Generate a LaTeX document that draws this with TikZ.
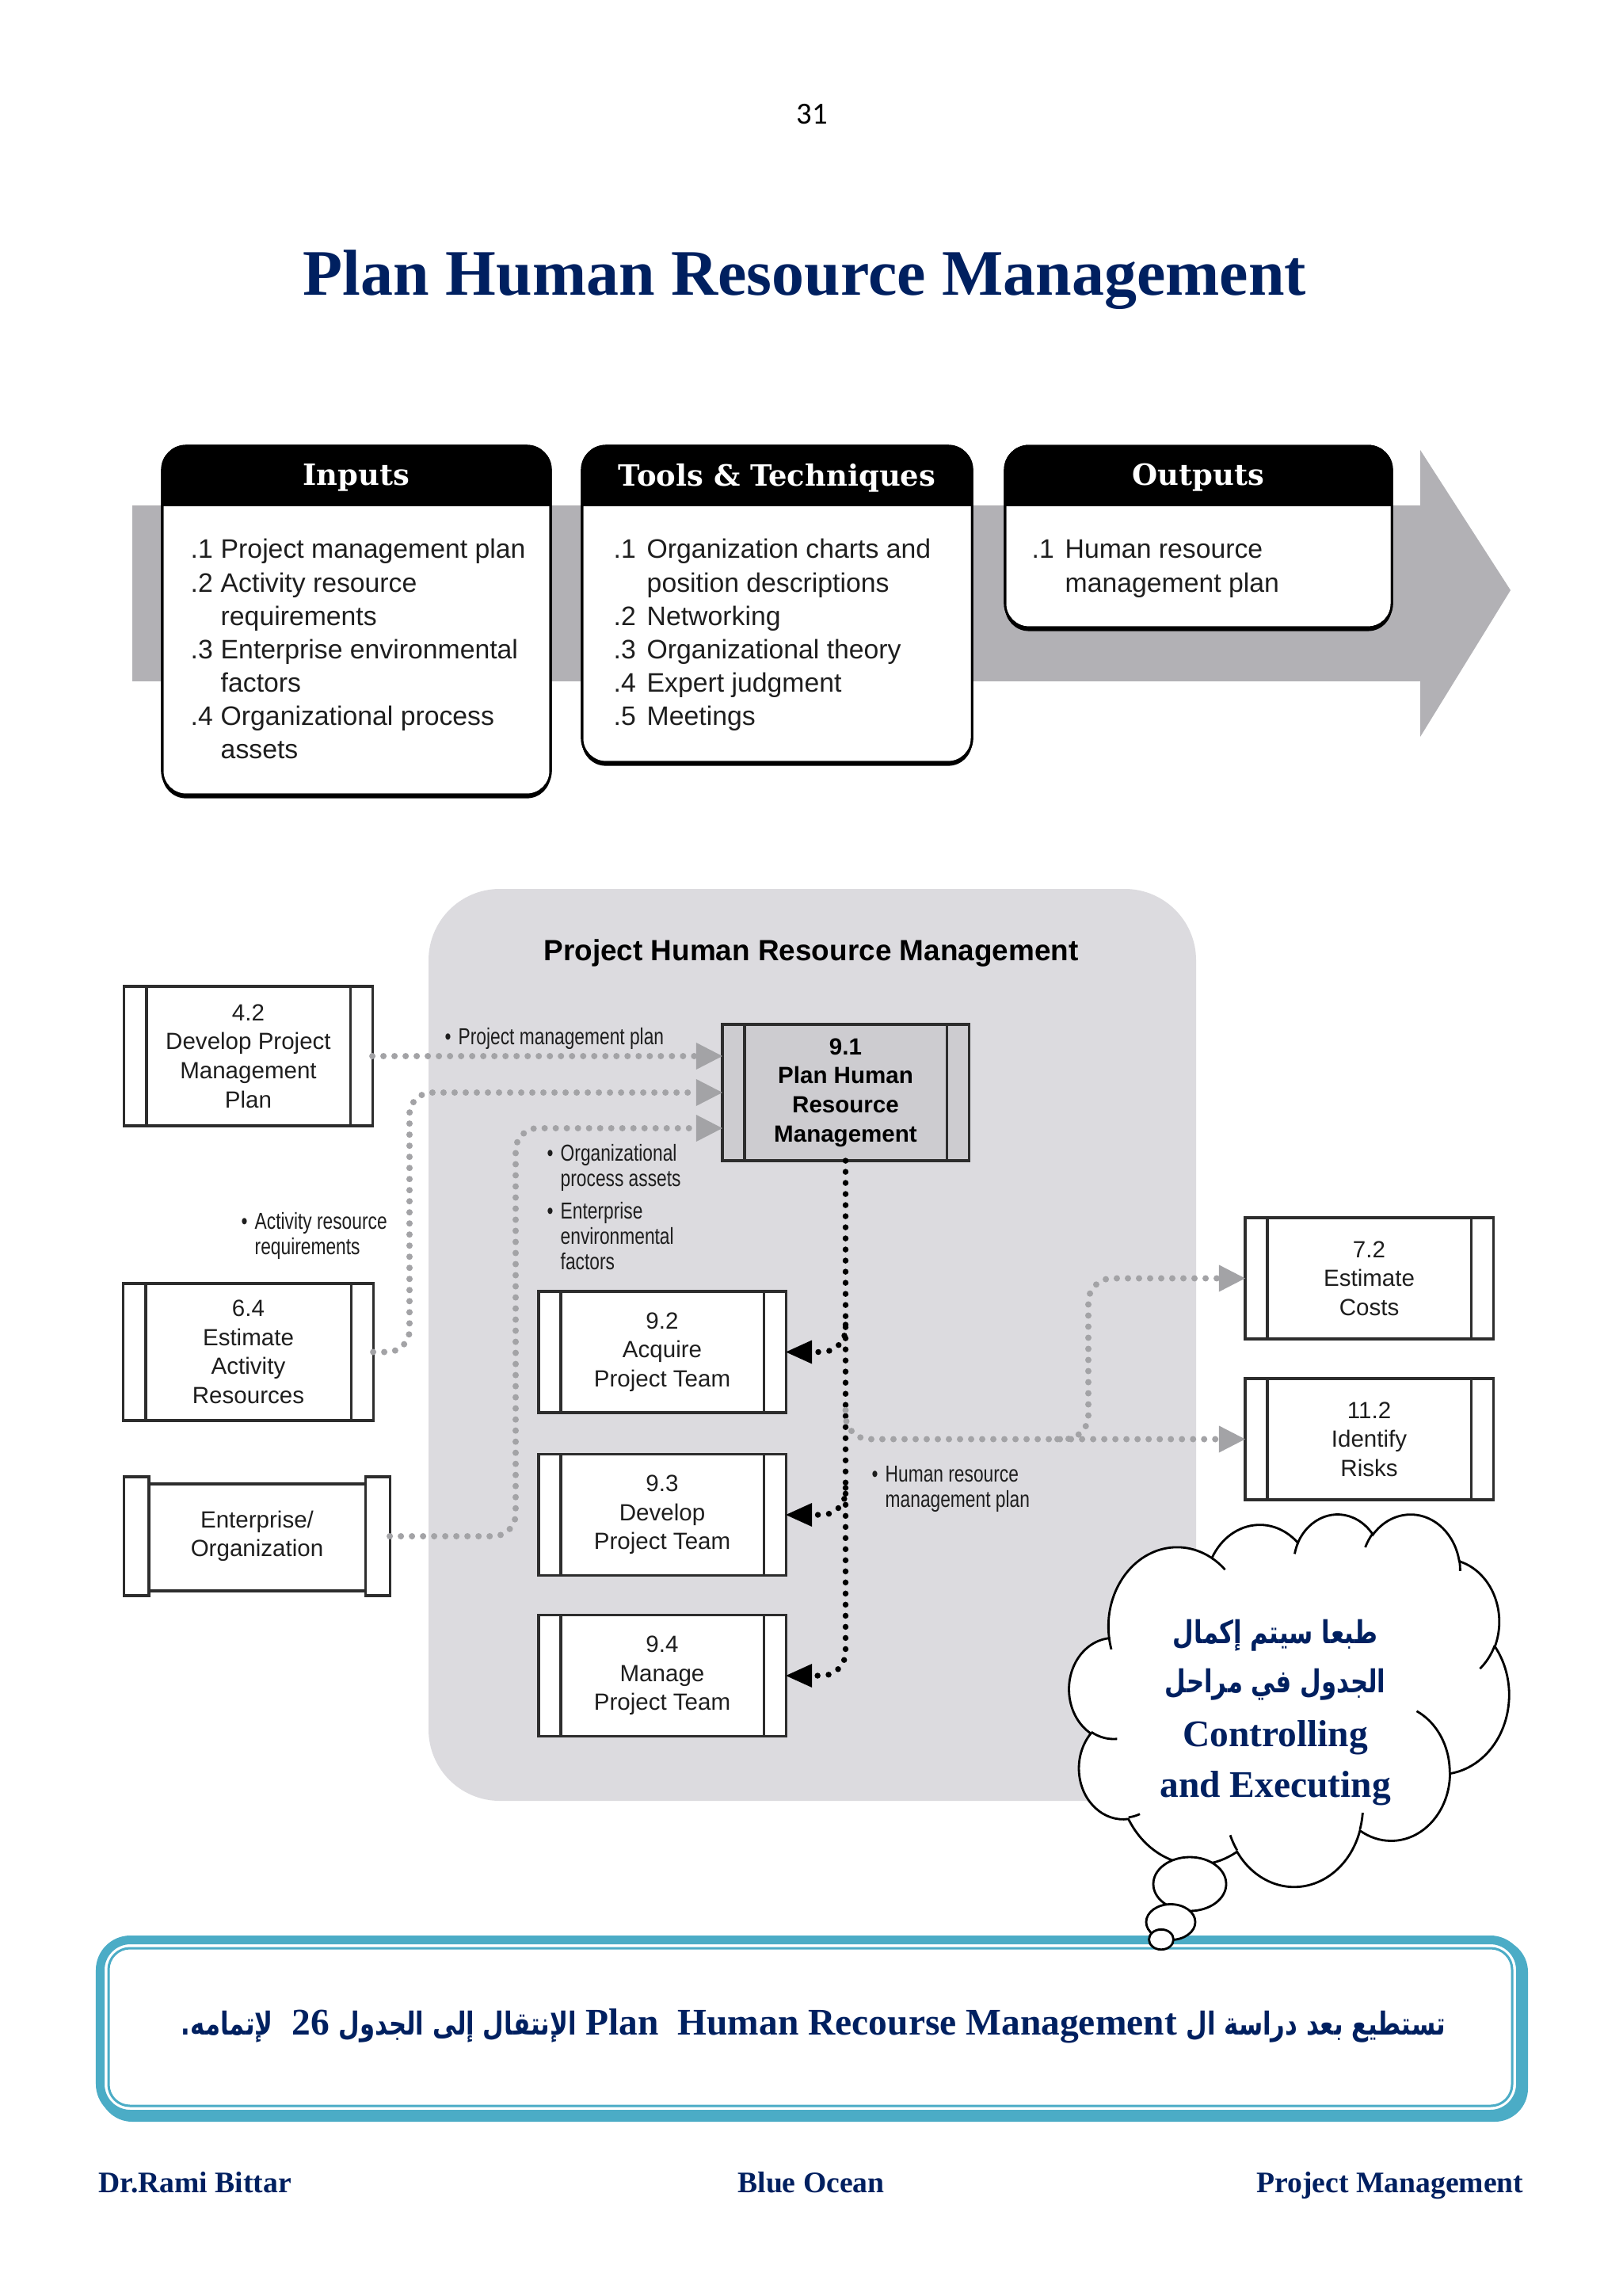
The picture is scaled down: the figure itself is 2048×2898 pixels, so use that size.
\documentclass[tikz,border=0pt]{standalone}
\usepackage{fontspec}
\setmainfont{Liberation Serif}
\newfontfamily\lsans{Liberation Sans}
\newfontfamily\lcond[FakeStretch=0.78]{Liberation Sans}
\newfontfamily\slab{DejaVu Serif}
\newfontfamily\arabicfont[Script=Arabic,Scale=0.84,FakeStretch=0.77]{DejaVu Sans}
\newfontfamily\carl{Carlito}
\usetikzlibrary{arrows.meta,shadows}
\TeXXeTstate=1
\definecolor{navy}{RGB}{0,32,96}
\definecolor{bxteal}{RGB}{75,172,198}
\definecolor{regiongray}{RGB}{220,219,223}
\definecolor{procgray}{RGB}{205,204,208}
\definecolor{arrowgray}{RGB}{178,177,181}
\definecolor{dotgray}{RGB}{163,163,166}
\definecolor{boxc}{RGB}{45,45,45}
\definecolor{txtc}{RGB}{30,30,30}
\newcommand\boxfont{\lsans\fontsize{8.4}{10.4}\selectfont}
\newcommand\listfont{\lsans\fontsize{9.6}{11.95}\selectfont}
\newcommand\lblfont{\lcond\fontsize{8.3}{9.2}\selectfont}
% cloud helpers (OOXML cloud preset, coordinates /100)
\newcommand\cldmove[2]{%
  \pgfmathsetmacro\clX{1350+(#1)*1.284722}%
  \pgfmathsetmacro\clY{1910+(#2)*1.087963}%
  \xdef\clpath{\clpath (\clX,\clY)}}
\newcommand\cldarc[4]{%
  \pgfmathsetmacro\clA{atan2((#1)*sin(#3),(#2)*cos(#3))}%
  \pgfmathsetmacro\clB{atan2((#1)*sin((#3)+(#4)),(#2)*cos((#3)+(#4)))}%
  \pgfmathsetmacro\clD{mod(\clB-\clA+720,360)}%
  \pgfmathsetmacro\clRx{(#1)*1.284722}%
  \pgfmathsetmacro\clRy{(#2)*1.087963}%
  \xdef\clpath{\clpath arc[start angle=\clA, delta angle=\clD, x radius=\clRx, y radius=\clRy]}}
\tikzset{
  proc/.style={draw=boxc, line width=0.9pt, fill=white, minimum width=3.12cm, minimum height=1.53cm,
    inner sep=0pt, outer sep=0pt, align=center, text=txtc, font=\boxfont,
    path picture={\draw[boxc, line width=0.9pt]
      ([xshift=0.28cm]path picture bounding box.north west) -- ([xshift=0.28cm]path picture bounding box.south west)
      ([xshift=-0.28cm]path picture bounding box.north east) -- ([xshift=-0.28cm]path picture bounding box.south east);}},
  itto/.style={draw=black, line width=0.8pt, fill=white, rounded corners=0.3cm, inner sep=0pt, outer sep=0pt,
    general shadow={fill=black, shadow yshift=-0.045cm}},
  hdr/.style={text=white, font=\slab\bfseries\fontsize{10.5}{12}\selectfont, inner sep=0pt},
  itlist/.style={anchor=base west, inner sep=0pt, font=\listfont, text=txtc},
  lbl/.style={anchor=base west, inner sep=0pt, font=\lblfont, text=txtc},
  gdots/.style={draw=dotgray, line width=0.08cm, line cap=round, dash pattern=on 0pt off 0.14cm,
    -{Triangle[length=0.33cm,width=0.34cm,line width=0pt 0 0]}},
  bdots/.style={draw=black, line width=0.075cm, line cap=round, dash pattern=on 0pt off 0.14cm,
    -{Triangle[length=0.33cm,width=0.30cm,line width=0pt 0 0]}},
  cloudtxt/.style={anchor=base, inner sep=0pt, text=navy, font=\bfseries\fontsize{13.5}{16}\selectfont},
  foot/.style={anchor=base, inner sep=0pt, text=navy, font=\bfseries\fontsize{10.7}{13}\selectfont},
}
\begin{document}
\begin{tikzpicture}[x=0.01cm, y=-0.01cm]
\useasboundingbox (0,0) rectangle (2048,2898);
\fill[white] (0,0) rectangle (2048,2898);

% page number and title
\node[anchor=base, inner sep=0pt, font=\carl\fontsize{11}{13}\selectfont] (pg) at (1025,157) {31};
\node[anchor=base, inner sep=0pt, text=navy, font=\bfseries\fontsize{23.3}{28}\selectfont] (title) at (1016,373) {Plan Human Resource Management};

% ITTO arrow
\fill[arrowgray] (167,638) -- (1793,638) -- (1793,568) -- (1907,745) -- (1793,930) -- (1793,860) -- (167,860) -- cycle;

% ITTO boxes
\node[itto, minimum width=4.9cm, minimum height=4.4cm] (bin) at (450,783) {};
\node[itto, minimum width=4.92cm, minimum height=3.99cm] (btt) at (981,762.5) {};
\node[itto, minimum width=4.88cm, minimum height=2.29cm] (bout) at (1513,677.5) {};
\foreach \b in {bin,btt,bout}{
  \begin{scope}
    \clip[rounded corners=0.3cm] (\b.north west) rectangle (\b.south east);
    \fill[black] (\b.north west) rectangle ([yshift=-0.76cm]\b.north east);
  \end{scope}
  \draw[black, line width=0.8pt, rounded corners=0.3cm] (\b.north west) rectangle (\b.south east);
}
\node[hdr] (hin) at (450,603) {Inputs};
\node[hdr] (htt) at (981,603) {Tools \& Techniques};
\node[hdr] (hout) at (1513,603) {Outputs};

\node[itlist] (lin) at (240,705) {\begin{tabular}[t]{@{}p{0.38cm}@{}l@{}}
.1&Project management plan\\.2&Activity resource\\&requirements\\.3&Enterprise environmental\\&factors\\.4&Organizational process\\&assets\end{tabular}};
\node[itlist] (ltt) at (774,705) {\begin{tabular}[t]{@{}p{0.42cm}@{}l@{}}
.1&Organization charts and\\&position descriptions\\.2&Networking\\.3&Organizational theory\\.4&Expert judgment\\.5&Meetings\end{tabular}};
\node[itlist] (lout) at (1302,705) {\begin{tabular}[t]{@{}p{0.42cm}@{}l@{}}
.1&Human resource\\&management plan\end{tabular}};

% process region
\fill[regiongray, rounded corners=0.9cm] (541,1122) rectangle (1510,2273);
\node[inner sep=0pt, font=\lsans\bfseries\fontsize{10.5}{12}\selectfont] (rtitle) at (1024,1203) {Project Human Resource Management};

% process boxes
\node[proc, minimum width=3.13cm, minimum height=1.76cm] (n42) at (313.5,1333) {4.2\\Develop Project\\Management\\Plan};
\node[proc, minimum width=3.15cm, minimum height=1.73cm] (n64) at (313.5,1706.5) {6.4\\Estimate\\Activity\\Resources};
\node[proc, fill=procgray, font=\boxfont\bfseries, text=black, minimum width=3.11cm, minimum height=1.72cm] (n91) at (1067.5,1379) {9.1\\Plan Human\\Resource\\Management};
\node[proc] (n92) at (836,1706.5) {9.2\\Acquire\\Project Team};
\node[proc] (n93) at (836,1912) {9.3\\Develop\\Project Team};
\node[proc] (n94) at (836,2115) {9.4\\Manage\\Project Team};
\node[proc, minimum width=3.13cm] (n72) at (1728.5,1613.5) {7.2\\Estimate\\Costs};
\node[proc, minimum width=3.13cm] (n112) at (1728.5,1816.5) {11.2\\Identify\\Risks};
\node[inner sep=0pt, outer sep=0pt, minimum width=3.35cm, minimum height=1.5cm, align=center, font=\boxfont, text=txtc] (nEO) at (324.5,1939) {Enterprise/\\Organization};
\draw[boxc, line width=0.9pt] (nEO.north west) rectangle ([xshift=0.31cm]nEO.south west);
\draw[boxc, line width=0.9pt] (nEO.north east) rectangle ([xshift=-0.31cm]nEO.south east);
\draw[boxc, line width=0.9pt] ([xshift=0.31cm,yshift=-0.09cm]nEO.north west) -- ([xshift=-0.31cm,yshift=-0.09cm]nEO.north east)
  ([xshift=0.31cm,yshift=0.06cm]nEO.south west) -- ([xshift=-0.31cm,yshift=0.06cm]nEO.south east);

% connectors
\draw[gdots] (n42.east) -- (n42.east -| n91.west);
\draw[gdots, rounded corners=0.28cm] (n64.east) -| (517,1379) -- (n91.west);
\draw[gdots, rounded corners=0.28cm] (nEO.east) -| (651,1424) -- ([yshift=-0.45cm]n91.west);
\draw[bdots, rounded corners=0.3cm] (n91.south) |- (n94.east);
\coordinate (b2) at (1067.5,1672);
\coordinate (b3) at (1067.5,1878);
\draw[bdots, rounded corners=0.3cm] (b2) |- (n92.east);
\draw[bdots, rounded corners=0.3cm] (b3) |- (n93.east);
\coordinate (g1) at (1067.5,1780);
\coordinate (g2) at (1335,1816.5);
\draw[gdots, rounded corners=0.3cm] (g1) |- (n112.west);
\draw[gdots, rounded corners=0.3cm] (g2) -- (1374,1816.5) |- (n72.west);

% labels
\node[lbl] (lb1) at (561,1318) {\begin{tabular}[t]{@{}p{0.17cm}@{}l@{}}\textbullet&Project management plan\end{tabular}};
\node[lbl] (lb2) at (304,1551) {\begin{tabular}[t]{@{}p{0.17cm}@{}l@{}}\textbullet&Activity resource\\&requirements\end{tabular}};
\node[lbl] (lb3) at (690,1465) {\begin{tabular}[t]{@{}p{0.17cm}@{}l@{}}\textbullet&Organizational\\&process assets\end{tabular}};
\node[lbl] (lb4) at (690,1538) {\begin{tabular}[t]{@{}p{0.17cm}@{}l@{}}\textbullet&Enterprise\\&environmental\\&factors\end{tabular}};
\node[lbl] (lb5) at (1100,1870) {\begin{tabular}[t]{@{}p{0.17cm}@{}l@{}}\textbullet&Human resource\\&management plan\end{tabular}};

% cloud
\gdef\clpath{}
\cldmove{39.00}{143.70}
\cldarc{67.53}{91.90}{-190.4875}{123.7805}
\cldarc{53.33}{72.67}{-144.1024}{89.9452}
\cldarc{43.65}{59.45}{-145.8079}{99.7230}
\cldarc{48.57}{65.95}{-130.9861}{117.2417}
\cldarc{53.33}{72.73}{-78.7089}{109.0269}
\cldarc{67.75}{92.20}{-46.2673}{130.2690}
\cldarc{57.85}{78.67}{0.6250}{114.0333}
\cldarc{67.52}{92.15}{22.4516}{115.1726}
\cldarc{77.20}{105.43}{66.2426}{75.7110}
\cldarc{43.60}{59.18}{-274.9421}{146.7356}
\cldarc{43.45}{59.45}{-246.8285}{152.5189}
\edef\cltmp{\noexpand\draw[black, line width=0.8pt, fill=white] \clpath -- cycle;}\cltmp
\gdef\clpath{}
\cldmove{46.93}{261.77}\cldarc{43.45}{59.45}{86.742}{26.430}
\cldmove{69.28}{348.99}\cldarc{43.60}{59.18}{73.610}{11.447}
\cldmove{164.78}{390.90}\cldarc{67.52}{92.15}{137.624}{14.081}
\cldmove{288.27}{347.51}\cldarc{67.52}{92.15}{6.453}{15.998}
\cldmove{341.29}{229.54}\cldarc{57.85}{78.67}{-70.292}{70.917}
\cldmove{417.98}{153.54}\cldarc{53.33}{72.73}{30.318}{27.752}
\cldmove{383.24}{54.26}\cldarc{48.57}{65.95}{-13.744}{14.859}
\cldmove{290.78}{39.52}\cldarc{48.57}{65.95}{-149.181}{18.195}
\cldmove{221.41}{47.20}\cldarc{43.65}{59.45}{-163.494}{17.686}
\cldmove{140.00}{51.92}\cldarc{67.53}{91.90}{-66.707}{12.319}
\cldmove{41.27}{157.89}\cldarc{67.53}{91.90}{157.654}{11.858}
\edef\cltmp{\noexpand\draw[black, line width=0.8pt] \clpath;}\cltmp

\node[cloudtxt] (c1) at (1610,2074) {\arabicfont\beginR طبعا سيتم إكمال\endR};
\node[cloudtxt] (c2) at (1610,2136) {\arabicfont\beginR الجدول في مراحل\endR};
\node[cloudtxt] (c3) at (1610,2204) {Controlling};
\node[cloudtxt] (c4) at (1610,2268) {and Executing};

% bottom box
\fill[bxteal, rounded corners=0.42cm] (125,2447) rectangle (1929,2678);
\draw[bxteal, line width=0.11cm, fill=white, rounded corners=0.38cm] (126.5,2448.5) rectangle (1919.5,2668.5);
\draw[bxteal, line width=0.03cm, rounded corners=0.27cm] (137,2459) rectangle (1909,2658);
\node[anchor=base, inner sep=0pt, text=navy, font=\bfseries\fontsize{13.5}{16}\selectfont] (btxt) at (1027,2568)
 {\beginR{\arabicfont تستطيع بعد دراسة ال} \beginL Plan\hspace{0.5em}Human Recourse Management\endL{} {\arabicfont الإنتقال إلى الجدول} \beginL 26\endL{}\hspace{0.5em}{\arabicfont لإتمامه.}\endR};

% thought bubbles
\draw[black, line width=0.8pt, fill=white] (1502,2378) ellipse [x radius=46, y radius=34];
\draw[black, line width=0.8pt, fill=white] (1478,2426) ellipse [x radius=31, y radius=22.5];
\draw[black, line width=0.8pt, fill=white] (1466,2448) ellipse [x radius=15.5, y radius=12.7];

% footer
\node[foot, anchor=base west] (f1) at (124,2767) {Dr.Rami Bittar};
\node[foot] (f2) at (1024,2767) {Blue Ocean};
\node[foot, anchor=base east] (f3) at (1924,2767) {Project Management};
\end{tikzpicture}
\end{document}
